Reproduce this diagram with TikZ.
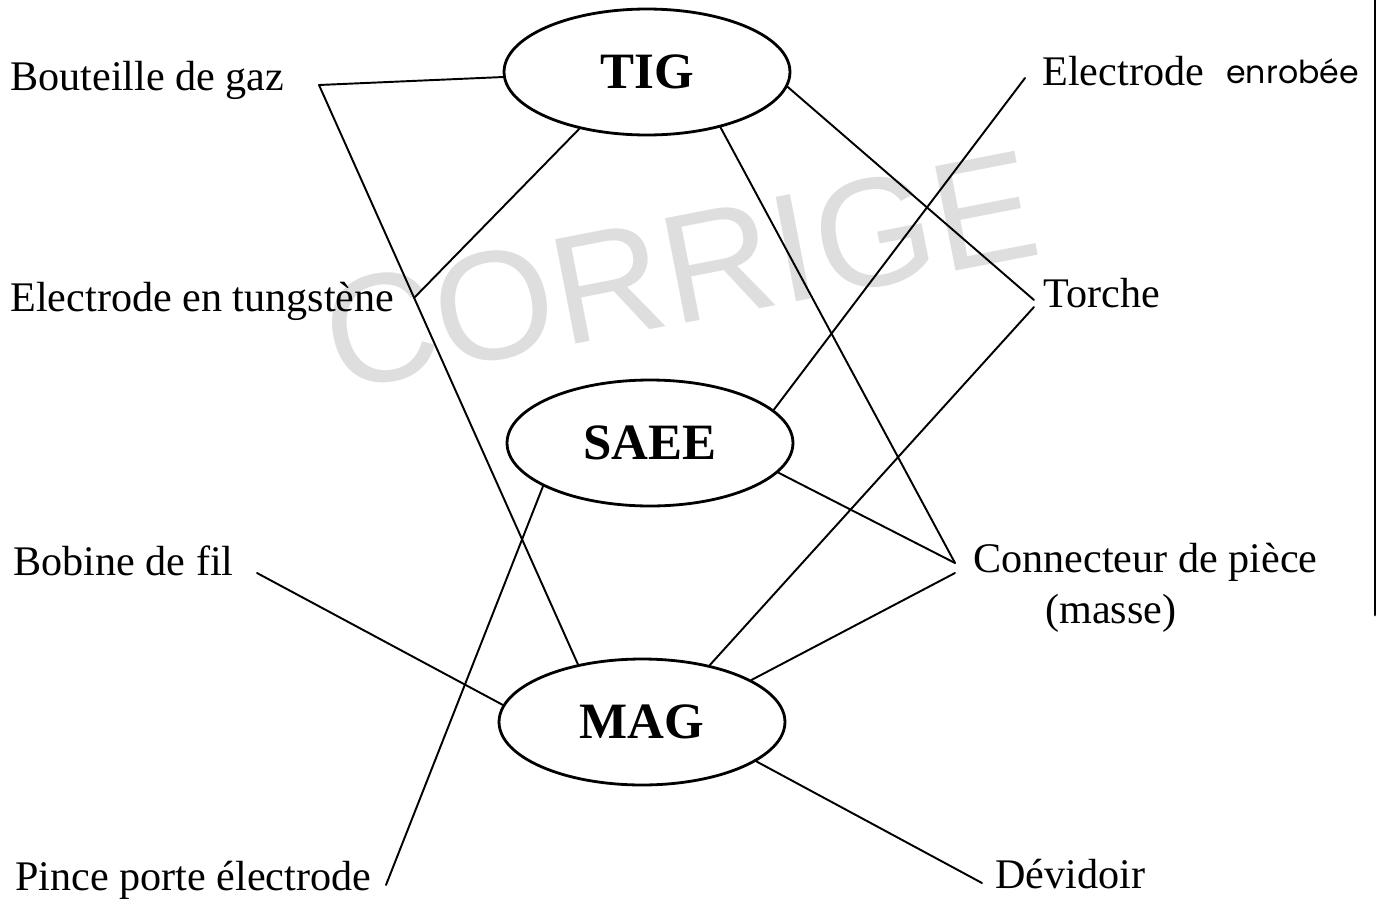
\documentclass[tikz,border=0pt]{standalone}
\usepackage{fontspec}
\setmainfont{Liberation Serif}
\newfontfamily\handfont{Poppins}
\newfontfamily\stampfont{Liberation Sans}
\usetikzlibrary{shapes.geometric}

\begin{document}
\begin{tikzpicture}[x=0.02cm, y=-0.02cm, line join=round, line cap=round,
	proc/.style={ellipse, draw, line width=1.6pt, minimum width=5.72cm, minimum height=2.52cm, inner sep=0pt, font=\fontsize{29}{34}\selectfont\bfseries},
	lbl/.style={anchor=base west, inner sep=0pt, font=\fontsize{24}{28}\selectfont},
	link/.style={line width=1.1pt}]
	\useasboundingbox (0,0) rectangle (1377,900);
	% tampon
	\node[rotate=11, text=black!13, font=\stampfont\fontsize{88}{100}\selectfont] (stamp) at (680,270) {CORRIGE};
	% procedes
	\node[proc] (tig) at (647,72) {TIG};
	\node[proc] (saee) at (650,443) {SAEE};
	\node[proc] (mag) at (642,722) {MAG};
	% materiel
	\node[lbl] (gaz) at (10,90) {Bouteille de gaz};
	\node[lbl] (tung) at (10,311) {Electrode en tungstène};
	\node[lbl] (bob) at (13,575) {Bobine de fil};
	\node[lbl] (pince) at (15,890) {Pince porte électrode};
	\node[lbl] (elec) at (1042,85) {Electrode};
	\node[lbl, font=\handfont\fontsize{18}{21}\selectfont] (enrob) at (1226,83) {enrobée};
	\node[lbl] (tor) at (1043,307) {Torche};
	\node[lbl] (con) at (973,572) {Connecteur de pièce};
	\node[lbl] (masse) at (1045,623) {(masse)};
	\node[lbl] (dev) at (995,888) {Dévidoir};
	% bouts des traits
	\coordinate (gaz-r) at (319,85);
	\coordinate (tung-r) at (414,298);
	\coordinate (bob-r) at (257,573);
	\coordinate (pince-r) at (386,885);
	\coordinate (elec-l) at (1025,78);
	\coordinate (tor-a) at (1034,300);
	\coordinate (tor-b) at (1034,307);
	\coordinate (con-a) at (955,563);
	\coordinate (con-b) at (955,573);
	\coordinate (dev-l) at (982,883);
	% liaisons
	\draw[link] (gaz-r) -- (tig.182);
	\draw[link] (gaz-r) -- (mag.138);
	\draw[link] (tig.220) -- (tung-r);
	\draw[link] (tig.323) -- (con-a);
	\draw[link] (tig.354) -- (tor-a);
	\draw[link] (elec-l) -- (saee.15);
	\draw[link] (tor-b) -- (mag.40);
	\draw[link] (saee.347) -- (con-a);
	\draw[link] (mag.21) -- (con-b);
	\draw[link] (saee.202) -- (pince-r);
	\draw[link] (bob-r) -- (mag.173);
	\draw[link] (mag.341) -- (dev-l);
	% bord de la feuille
	\draw[line width=1.6pt] (1375,0) -- (1375,615);
\end{tikzpicture}
\end{document}
